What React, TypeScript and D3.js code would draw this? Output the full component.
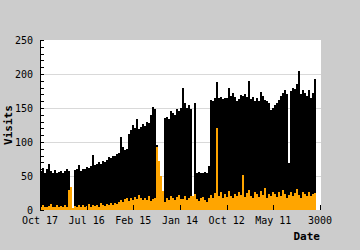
import React from "react";
import * as d3 from "d3";

const visits: number[] = [
  58, 62, 55, 60, 67, 57, 54, 59, 55, 56, 58, 54, 57, 60, 57, 34, 3,
  59, 60, 66, 58, 61, 60, 63, 62, 64, 81, 66, 68, 70, 67, 72, 71, 73, 78, 76, 80, 79, 82, 84,
  107, 92, 88, 90, 112, 118, 125, 120, 134, 119, 122, 127, 124, 130, 128, 140, 151, 148,
  95, 72, 50, 28,
  135, 137, 134, 146, 143, 140, 148, 146, 150, 179, 158, 150, 155, 149, 20, 157, 55,
  56, 54, 55, 56, 55, 64,
  162, 160, 164, 188, 164, 166, 163, 165, 164, 179, 168, 172, 166, 161, 163, 169, 168, 170,
  166, 190, 163, 166, 160, 164, 161, 174, 168, 162, 160, 158, 147, 150, 155, 158, 162, 168,
  172, 176, 170, 69, 175, 180, 178, 185, 204, 170, 176, 172, 168, 177, 165, 172, 193,
];

const hits: number[] = [
  4, 8, 5, 4, 6, 9, 5, 4, 7, 5, 6, 4, 8, 5, 30, 34, 3,
  6, 4, 7, 5, 8, 5, 6, 9, 5, 7, 6, 8, 5, 10, 7, 6, 9, 8, 11, 7, 10, 9, 12,
  14, 12, 16, 18, 13, 17, 15, 19, 16, 22, 17, 14, 18, 15, 20, 13, 16, 18,
  92, 72, 50, 28,
  12, 18, 15, 21, 17, 14, 19, 22, 16, 16, 20, 15, 18, 21, 20, 24, 16,
  13, 17, 19, 15, 12, 18,
  22, 18, 25, 120, 20, 26, 17, 23, 19, 28, 21, 18, 24, 20, 27, 22, 51, 19,
  25, 30, 21, 17, 26, 23, 19, 28, 22, 32, 18, 24, 20, 27, 23, 19, 26, 21,
  29, 24, 18, 22, 27, 20, 25, 31, 22, 18, 26, 23, 20, 27, 21, 24, 25,
];

const xLabels: string[] = ["Oct 17", "Jul 16", "Feb 15", "Jan 14", "Oct 12", "May 11", "3000"];
const yTicks: number[] = [0, 50, 100, 150, 200, 250];
const yMinorTicks: number[] = d3.range(0, 251, 10);

const W = 360;
const H = 250;
const left = 40;
const right = 320;
const top = 40;
const bottom = 210;
const font = "'DejaVu Sans Mono', monospace";

export default function App() {
  const x = d3.scaleLinear().domain([0, 140]).range([left, right]);
  const y = d3.scaleLinear().domain([0, 250]).range([bottom, top]);
  const xl = d3.scalePoint<string>().domain(xLabels).range([left, right]);

  return (
    <svg
      width={W}
      height={H}
      style={{ position: "absolute", left: 0, top: 0 }}
      shapeRendering="crispEdges"
    >
      <rect x={0} y={0} width={W} height={H} fill="#cccccc" />
      <rect x={left} y={top} width={right - left + 1} height={bottom - top} fill="#ffffff" />
      {yTicks
        .filter((t) => t > 0 && t < 250)
        .map((t) => (
          <line key={"g" + t} x1={left} x2={right + 1} y1={y(t) + 0.5} y2={y(t) + 0.5} stroke="#d9d9d9" />
        ))}
      {visits.map((v, i) => (
        <rect key={"v" + i} x={x(i)} y={y(v)} width={x(i + 1) - x(i)} height={bottom - y(v)} fill="#000000" />
      ))}
      {hits.map((v, i) => (
        <rect key={"h" + i} x={x(i)} y={y(v)} width={x(i + 1) - x(i)} height={bottom - y(v)} fill="#ffa500" />
      ))}
      <line x1={left + 0.5} x2={left + 0.5} y1={top} y2={bottom} stroke="#000" />
      {yMinorTicks.map((t) => (
        <line key={"m" + t} x1={left} x2={left + 4} y1={y(t) + 0.5} y2={y(t) + 0.5} stroke="#000" />
      ))}
      {yTicks.map((t) => (
        <text key={"yl" + t} x={33} y={y(t) + 4} textAnchor="end" fontFamily={font} fontSize={10} fill="#000">
          {t}
        </text>
      ))}
      {xLabels.map((l) => (
        <g key={"xl" + l}>
          <line x1={(xl(l) as number) + 0.5} x2={(xl(l) as number) + 0.5} y1={bottom - 5} y2={bottom} stroke="#000" />
          <text x={xl(l) as number} y={224} textAnchor="middle" fontFamily={font} fontSize={10} fill="#000">
            {l}
          </text>
        </g>
      ))}
      <text x={320} y={240} textAnchor="end" fontFamily={font} fontSize={11} fontWeight="bold" fill="#000">
        Date
      </text>
      <text
        transform="translate(12,125) rotate(-90)"
        textAnchor="middle"
        fontFamily={font}
        fontSize={11}
        fontWeight="bold"
        fill="#000"
      >
        Visits
      </text>
    </svg>
  );
}
